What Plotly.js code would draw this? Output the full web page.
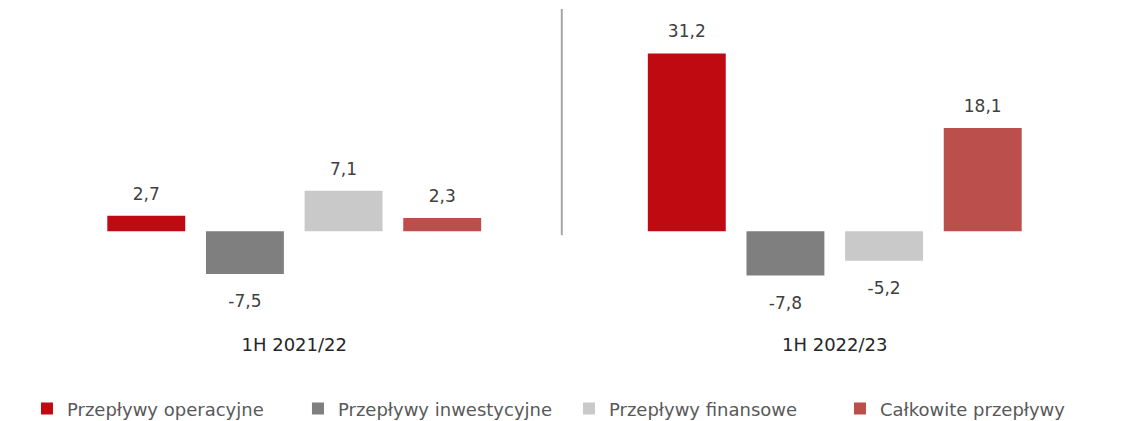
<!DOCTYPE html>
<html>
<head>
<meta charset="utf-8">
<script src="https://cdn.plot.ly/plotly-3.0.1.min.js"></script>
<style>
  html, body { margin: 0; padding: 0; background: #fff; }
  #chart { width: 1124px; height: 421px; }
</style>
</head>
<body>
<div id="chart"></div>
<script>
// periods on the x axis
var periods = ['1H 2021/22', '1H 2022/23'];

// cash flows per series (mln PLN)
var operacyjne = [2.7, 31.2];
var inwestycyjne = [-7.5, -7.8];
var finansowe = [7.1, -5.2];
var calkowite = [2.3, 18.1];

var names = ['Przepływy operacyjne', 'Przepływy inwestycyjne', 'Przepływy finansowe', 'Całkowite przepływy'];
var colors = ['#C00A12', '#7F7F7F', '#C9C9C9', '#BB4F4C'];

// polish number format; small blank lines keep the label a bit away from the bar
function labels(vals) {
    return vals.map(function (v) {
        var s = "<span style='font-size:17px'>" + v.toFixed(1).replace('.', ',') + '</span>';
        return v >= 0 ? s + '<br> ' : ' <br> <br>' + s;
    });
}

var series = [operacyjne, inwestycyjne, finansowe, calkowite];
var data = series.map(function (vals, i) {
    return {
        type: 'bar',
        x: periods,
        y: vals,
        name: names[i],
        text: labels(vals),
        textposition: 'outside',
        cliponaxis: false,
        constraintext: 'none',
        textfont: { size: 8.5, color: '#404040' },
        marker: { color: colors[i] },
        hoverinfo: 'name+y'
    };
});

var layout = {
    width: 1124,
    height: 421,
    margin: { l: 24, r: 19, t: 9, b: 93, autoexpand: false },
    font: { family: 'DejaVu Sans, sans-serif', color: '#404040' },
    paper_bgcolor: '#fff',
    plot_bgcolor: '#fff',
    barmode: 'group',
    bargap: 0.27,
    bargroupgap: 0.21,
    showlegend: true,
    legend: {
        orientation: 'h',
        xref: 'container',
        yref: 'container',
        x: 0.024,
        xanchor: 'left',
        y: 0.029,
        yanchor: 'middle',
        font: { size: 18, color: '#595959' },
        itemwidth: 30,
        entrywidth: 226,
        traceorder: 'normal'
    },
    xaxis: {
        type: 'category',
        showgrid: false,
        zeroline: false,
        showline: false,
        ticks: '',
        ticklabelstandoff: 4,
        tickfont: { size: 18, color: '#262626' }
    },
    yaxis: {
        range: [-17, 39],
        visible: false,
        zeroline: false,
        showgrid: false
    },
    // divider between the two periods
    shapes: [{
        type: 'line',
        xref: 'x',
        yref: 'y',
        x0: 0.495, x1: 0.495,
        y0: -0.7, y1: 39,
        line: { color: '#A6A6A6', width: 2 }
    }]
};

Plotly.newPlot('chart', data, layout, { displayModeBar: false });
</script>
</body>
</html>
